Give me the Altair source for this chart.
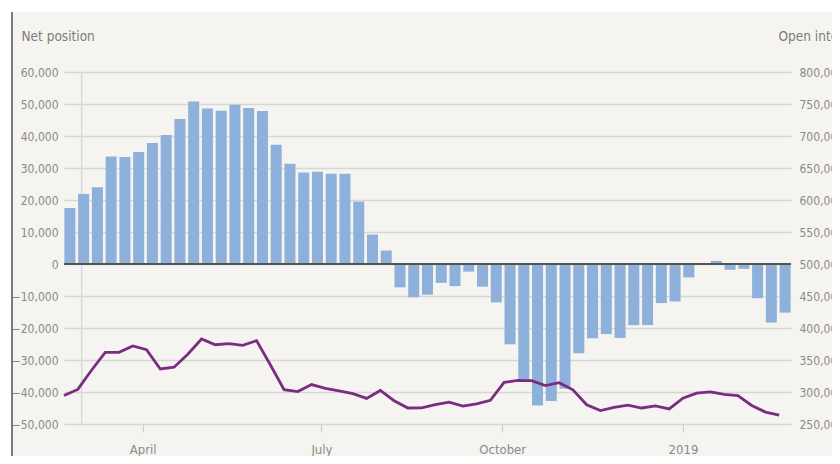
import altair as alt
import pandas as pd

# Weekly data: Feb 2018 - Feb 2019
start_date = "2018-02-20"
n_weeks = 53
net_position = [17500, 21900, 24000, 33600, 33400, 35000, 37800, 40300, 45300, 50800,
                48600, 47900, 49800, 48750, 47800, 37300, 31300, 28600, 28800, 28200,
                28200, 19500, 9200, 4200, -7300, -10400, -9600, -5900, -6900, -2400,
                -7100, -12000, -25100, -36000, -44200, -42800, -39000, -27900, -23200, -21900,
                -23100, -19100, -19100, -12200, -11700, -4200, 0, 1000, -1800, -1500,
                -10700, -18300, -15200]
open_interest = [294500, 304000, 334000, 362000, 362000, 372000, 366200, 336000, 338700, 359000,
                 382800, 373800, 375500, 373000, 380200, 342500, 303500, 300700, 311600, 305700,
                 301700, 297500, 290000, 302400, 286400, 275000, 275300, 280400, 284000, 278000,
                 281400, 287000, 315000, 318000, 317800, 310000, 314500, 303500, 280000, 271000,
                 276000, 279500, 275000, 278200, 273600, 290400, 298200, 300300, 296300, 294300,
                 279000, 268600, 264000]

line_dates = pd.date_range(start_date, periods=n_weeks, freq="7D")
bar_dates = line_dates + pd.Timedelta(days=3)

df = pd.DataFrame({
    "line_date": line_dates.strftime("%Y-%m-%dT00:00:00"),
    "bar_date": bar_dates.strftime("%Y-%m-%dT00:00:00"),
    "net": net_position,
    "oi": open_interest,
})

FONT = "DejaVu Sans Condensed, Roboto, sans-serif"
TEXT = "#8a8a8a"
GRID = "#d6d6d2"
BG = "#f5f4f0"

x_domain = [alt.DateTime(year=2018, month=2, date=20), alt.DateTime(year=2019, month=2, date=25)]
x_ticks = [alt.DateTime(year=2018, month=4, date=1), alt.DateTime(year=2018, month=7, date=1),
           alt.DateTime(year=2018, month=10, date=1), alt.DateTime(year=2019, month=1, date=1)]
x_scale = alt.Scale(domain=x_domain, nice=False, padding=0)
x_axis = alt.Axis(values=x_ticks, grid=False, domain=False, ticks=True, tickSize=8,
                  tickColor="#cfcfcb", tickWidth=1.2, labelPadding=21, labelBaseline="alphabetic",
                  labelExpr="month(datum.value) == 0 ? timeFormat(datum.value, '%Y') : timeFormat(datum.value, '%B')",
                  labelFontSize=13, title=None)

left_ticks = list(range(-50000, 60001, 10000))
right_ticks = list(range(250000, 800001, 50000))

left_scale = alt.Scale(domain=[-50000, 60000], nice=False, zero=False)
left_axis = alt.Axis(values=left_ticks, format=",.0f", grid=True, gridColor=GRID, gridWidth=1.3,
                     domain=False, ticks=False, labelPadding=6, labelOverlap=False,
                     title="Net position", titleAngle=0, titleAlign="left",
                     titleBaseline="alphabetic", titleX=-43, titleY=-32,
                     titleFont=FONT, titleFontSize=13.5, titleFontWeight="normal",
                     titleColor="#7d7d7d")

white_top = alt.Chart(df).mark_rect(color="#ffffff").encode(
    x=alt.value(-56), x2=alt.value(776), y=alt.value(-64), y2=alt.value(-60)
)
white_left = alt.Chart(df).mark_rect(color="#ffffff").encode(
    x=alt.value(-56), x2=alt.value(-53), y=alt.value(-64), y2=alt.value(392)
)

bars = alt.Chart(df).mark_bar(size=11, color="#8eb1dc").encode(
    x=alt.X("bar_date:T", scale=x_scale, axis=x_axis),
    y=alt.Y("net:Q", scale=left_scale, axis=left_axis),
)

zero_rule = alt.Chart(df).mark_rule(color="#555555", strokeWidth=1.6).encode(
    y=alt.YDatum(0, type="quantitative", scale=left_scale, axis=left_axis)
)

vline_df = pd.DataFrame({"d": ["2018-03-01T00:00:00"]})
vline = alt.Chart(vline_df).mark_rule(color=GRID, strokeWidth=1.3).encode(
    x=alt.X("d:T", scale=x_scale, axis=x_axis)
)

border = alt.Chart(df).mark_rule(color="#7a7a7a", strokeWidth=2).encode(
    x=alt.value(-52), y=alt.value(-60), y2=alt.value(392)
)

left = alt.layer(white_top, white_left, vline, bars, zero_rule, border)

line = alt.Chart(df).mark_line(color="#7b2c80", strokeWidth=2.8).encode(
    x=alt.X("line_date:T", scale=x_scale, axis=x_axis),
    y=alt.Y("oi:Q", scale=alt.Scale(domain=[250000, 800000], nice=False, zero=False),
            axis=alt.Axis(orient="right", values=right_ticks, format=",.0f", grid=False,
                          domain=False, ticks=False, labelPadding=8, labelOverlap=False,
                          title="Open interest", titleAngle=0, titleAlign="left",
                          titleBaseline="alphabetic", titleX=-13, titleY=-32,
                          titleFont=FONT, titleFontSize=13.5, titleFontWeight="normal",
                          titleColor="#7d7d7d")),
)

chart = alt.layer(left, line).resolve_scale(y="independent").properties(
    width=727, height=352,
    autosize=alt.AutoSizeParams(type="none"),
    padding={"left": 56, "top": 64, "right": 41, "bottom": 32},
    background=BG,
).configure_view(stroke=None).configure_axis(
    labelFont=FONT, labelFontSize=12, labelColor=TEXT,
)

chart.save("out.html", embed_options={"renderer": "svg", "actions": False})
